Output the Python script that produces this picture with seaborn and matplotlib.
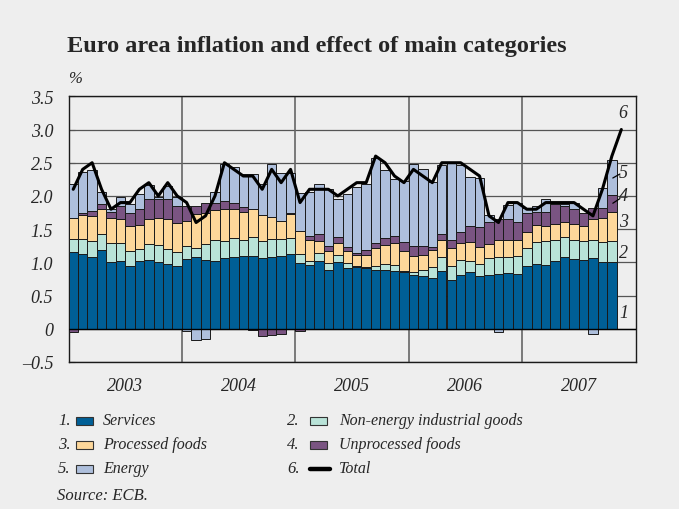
import numpy as np
import pandas as pd
import matplotlib
matplotlib.use("Agg")
import matplotlib.pyplot as plt
from matplotlib.patches import Rectangle
from matplotlib.lines import Line2D
import seaborn as sns

# ---------------- data (monthly, Jan 2003 - Oct 2007 for bars) ----------------
years = ["2003", "2004", "2005", "2006", "2007"]

services = [
    1.15, 1.12, 1.075, 1.18, 1.0, 1.025, 0.95, 1.015, 1.035, 1.0, 0.97, 0.94,
    1.05, 1.075, 1.04, 1.025, 1.065, 1.075, 1.09, 1.10, 1.065, 1.075, 1.09, 1.12,
    0.99, 0.965, 1.025, 0.885, 1.01, 0.915, 0.925, 0.915, 0.885, 0.885, 0.865, 0.85,
    0.81, 0.80, 0.76, 0.875, 0.74, 0.81, 0.85, 0.79, 0.815, 0.83, 0.835, 0.83,
    0.94, 0.975, 0.96, 1.015, 1.075, 1.05, 1.04, 1.06, 1.01, 1.0]

non_energy_goods = [
    0.20, 0.23, 0.25, 0.245, 0.295, 0.26, 0.215, 0.185, 0.24, 0.26, 0.23, 0.22,
    0.19, 0.14, 0.235, 0.31, 0.26, 0.285, 0.245, 0.275, 0.25, 0.275, 0.255, 0.24,
    0.135, 0.06, 0.11, 0.10, 0.105, 0.075, 0.015, 0.02, 0.065, 0.09, 0.10, 0.015,
    0.05, 0.09, 0.165, 0.20, 0.21, 0.225, 0.175, 0.185, 0.255, 0.255, 0.25, 0.26,
    0.27, 0.325, 0.365, 0.325, 0.30, 0.29, 0.285, 0.28, 0.29, 0.315]

processed_foods = [
    0.325, 0.36, 0.375, 0.375, 0.38, 0.375, 0.375, 0.36, 0.375, 0.415, 0.46, 0.44,
    0.38, 0.51, 0.475, 0.455, 0.475, 0.45, 0.43, 0.435, 0.405, 0.335, 0.28, 0.365,
    0.34, 0.315, 0.19, 0.19, 0.175, 0.185, 0.17, 0.175, 0.265, 0.29, 0.32, 0.31,
    0.23, 0.225, 0.265, 0.26, 0.265, 0.255, 0.275, 0.26, 0.20, 0.255, 0.255, 0.25,
    0.25, 0.26, 0.225, 0.235, 0.235, 0.245, 0.225, 0.31, 0.375, 0.45]

unprocessed_foods = [
    -0.05, 0.04, 0.07, 0.085, 0.085, 0.19, 0.21, 0.25, 0.31, 0.285, 0.30, 0.25,
    0.23, 0.125, 0.14, 0.11, 0.125, 0.09, 0.07, -0.02, -0.11, -0.09, -0.075, 0.02,
    -0.04, 0.06, 0.10, 0.075, 0.085, 0.05, 0.025, 0.08, 0.075, 0.095, 0.105, 0.125,
    0.15, 0.135, 0.035, 0.09, 0.125, 0.16, 0.24, 0.29, 0.345, 0.32, 0.32, 0.275,
    0.29, 0.205, 0.21, 0.30, 0.24, 0.215, 0.20, 0.175, 0.15, 0.245]

energy = [
    0.50, 0.615, 0.62, 0.18, 0.05, 0.135, 0.125, 0.225, 0.21, 0.02, 0.19, 0.135,
    -0.03, -0.175, -0.16, 0.165, 0.55, 0.54, 0.50, 0.525, 0.465, 0.79, 0.725, 0.60,
    0.585, 0.665, 0.76, 0.85, 0.585, 0.80, 1.005, 0.995, 1.285, 1.025, 0.86, 0.925,
    1.245, 1.16, 0.985, 1.04, 1.17, 1.015, 0.75, 0.75, 0.10, -0.05, 0.20, 0.275,
    0.065, 0.085, 0.19, 0.0, 0.025, 0.10, 0.0, -0.075, 0.30, 0.53]

# Total HICP inflation, Jan 2003 - Nov 2007
total = [
    2.1, 2.4, 2.5, 2.1, 1.8, 1.9, 1.9, 2.1, 2.2, 2.0, 2.2, 2.0,
    1.9, 1.6, 1.7, 2.0, 2.5, 2.4, 2.3, 2.3, 2.1, 2.4, 2.2, 2.4,
    1.9, 2.1, 2.1, 2.1, 2.0, 2.1, 2.2, 2.2, 2.6, 2.5, 2.3, 2.2,
    2.4, 2.3, 2.2, 2.5, 2.5, 2.5, 2.4, 2.3, 1.7, 1.6, 1.9, 1.9,
    1.8, 1.8, 1.9, 1.9, 1.9, 1.9, 1.8, 1.7, 2.1, 2.6, 3.0]

series_names = ["Services", "Non-energy industrial goods", "Processed foods",
                "Unprocessed foods", "Energy"]
series_colors = ["#005f96", "#b9e3d8", "#fdd79a", "#7a5482", "#aebfdc"]
y_ticks = [-0.5, 0, 0.5, 1.0, 1.5, 2.0, 2.5, 3.0, 3.5]
y_tick_labels = ["\u20130.5", "0", "0.5", "1.0", "1.5", "2.0", "2.5", "3.0", "3.5"]

# ---------------- style ----------------
sns.set_theme(style="white")
BG = "#eeeeee"
plt.rcParams["font.family"] = ["Liberation Serif", "DejaVu Serif"]

W, H = 679, 510
fig = plt.figure(figsize=(W / 100, H / 100), dpi=100, facecolor=BG)

def fx(px):
    return px / W

def fy(py):
    return 1 - py / H

ax_left, ax_right, ax_top, ax_bot = 68.5, 635.5, 97.3, 363.0
ax = fig.add_axes([fx(ax_left), fy(ax_bot), fx(ax_right - ax_left), (ax_bot - ax_top) / H])
ax.set_facecolor(BG)

# ---------------- stacked bars ----------------
data = pd.DataFrame({n: v for n, v in zip(series_names,
                     [services, non_energy_goods, processed_foods, unprocessed_foods, energy])})
x_bars = np.arange(len(data))
pos_base = np.zeros(len(data))
neg_base = np.zeros(len(data))
for name, col in zip(series_names, series_colors):
    vals = data[name].to_numpy()
    bottoms = np.where(vals >= 0, pos_base, neg_base)
    ax.bar(x_bars, vals, bottom=bottoms, width=1.0, color=col,
           edgecolor="#1a1a1a", linewidth=0.7, zorder=3)
    pos_base = pos_base + np.where(vals >= 0, vals, 0)
    neg_base = neg_base + np.where(vals < 0, vals, 0)

# total line
tot_df = pd.DataFrame({"month": np.arange(len(total)), "total": total})
sns.lineplot(data=tot_df, x="month", y="total", color="black", linewidth=2.2,
             ax=ax, zorder=5)

# ---------------- axes, grid ----------------
ax.set_xlim(-0.5, 59.5)
ax.set_ylim(-0.5, 3.5)
for yv in y_ticks:
    ax.axhline(yv, color="#555555", linewidth=0.9, zorder=1)
ax.axhline(0, color="black", linewidth=1.0, zorder=4)
for k in range(1, 5):
    ax.axvline(-0.5 + 12 * k, color="#666666", linewidth=1.2, zorder=1)

ax.set_yticks(y_ticks)
ax.set_yticklabels(y_tick_labels, fontsize=13, fontstyle="italic")
ax.set_xticks([5.5 + 12 * k for k in range(5)])
ax.set_xticklabels(years, fontsize=13, fontstyle="italic")
ax.tick_params(axis="y", direction="in", length=4, width=0.8, color="#333333", pad=11, left=True)
ax.tick_params(axis="x", length=0, pad=11)
ax.set_xlabel("")
ax.set_ylabel("")
for s in ax.spines.values():
    s.set_color("#1a1a1a")
    s.set_linewidth(1.0)
    s.set_visible(True)

# series numbers on the right
num_x = 58.25
ax.text(num_x, 0.25, "1", fontsize=13, fontstyle="italic", ha="center", va="center", zorder=6)
ax.text(num_x, 1.15, "2", fontsize=13, fontstyle="italic", ha="center", va="center", zorder=6)
ax.text(num_x, 1.62, "3", fontsize=13, fontstyle="italic", ha="center", va="center", zorder=6)
ax.text(num_x, 2.0, "4", fontsize=13, fontstyle="italic", ha="center", va="center", zorder=6)
ax.text(num_x, 2.36, "5", fontsize=13, fontstyle="italic", ha="center", va="center", zorder=6)
ax.text(num_x - 0.1, 3.25, "6", fontsize=13, fontstyle="italic", ha="center", va="center", zorder=6)
ax.plot([57.1, 57.85], [1.89, 1.96], color="black", linewidth=0.9, zorder=6)
ax.plot([57.1, 57.85], [2.27, 2.33], color="black", linewidth=0.9, zorder=6)

# ---------------- title and unit ----------------
fig.text(fx(67), fy(52), "Euro area inflation and effect of main categories",
         fontsize=17.5, fontweight="bold", ha="left", va="baseline")
fig.text(fx(68), fy(79), "%", fontsize=12, fontstyle="italic", ha="left", va="center")

# ---------------- legend (manual) ----------------
leg_items = [
    ("1.", "Services", series_colors[0], 0, 0),
    ("2.", "Non-energy industrial goods", series_colors[1], 1, 0),
    ("3.", "Processed foods", series_colors[2], 0, 1),
    ("4.", "Unprocessed foods", series_colors[3], 1, 1),
    ("5.", "Energy", series_colors[4], 0, 2),
    ("6.", "Total", None, 1, 2),
]
col_num_x = [58, 287]
col_patch_x = [76, 310]
col_text_x = [103, 339]
row_y = [421.5, 445.5, 469.5]
for num, label, colr, c, r in leg_items:
    yy = row_y[r]
    fig.text(fx(col_num_x[c]), fy(yy), num, fontsize=12, fontstyle="italic",
             ha="left", va="center")
    if colr is not None:
        fig.add_artist(Rectangle((fx(col_patch_x[c]), fy(yy + 4)), fx(17), 8 / H,
                                 transform=fig.transFigure, facecolor=colr,
                                 edgecolor="#333333", linewidth=0.8))
    else:
        fig.add_artist(Line2D([fx(col_patch_x[c]), fx(col_patch_x[c] + 20)], [fy(yy), fy(yy)],
                              transform=fig.transFigure, color="black", linewidth=3.2,
                              solid_capstyle="round"))
    fig.text(fx(col_text_x[c]), fy(yy), label, fontsize=11.5, fontstyle="italic",
             ha="left", va="center")

fig.text(fx(57), fy(496), "Source: ECB.", fontsize=12, fontstyle="italic",
         ha="left", va="center")

fig.savefig("out.png", dpi=100, facecolor=BG)
